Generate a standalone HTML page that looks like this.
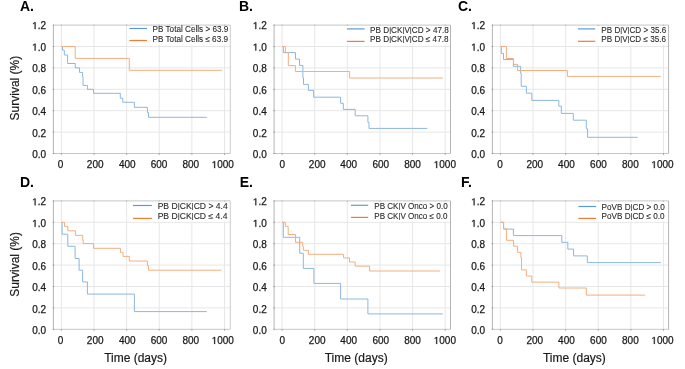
<!DOCTYPE html>
<html><head><meta charset="utf-8"><style>
html,body{margin:0;padding:0;background:#fff;width:685px;height:369px;overflow:hidden}
svg{display:block;will-change:transform}
text{font-family:"Liberation Sans",sans-serif;fill:#1a1a1a}
.tk{font-size:10px;stroke:#1a1a1a;stroke-width:0.25px}
.lg{font-size:8.3px;fill:#2a2a2a;stroke:#2a2a2a;stroke-width:0.1px}
.pl{font-size:14px;font-weight:bold;fill:#000}
.hid{fill-opacity:0;stroke-opacity:0}
.one{fill:#1a1a1a;stroke:#1a1a1a;stroke-width:60}
.at{font-size:12px;stroke:#1a1a1a;stroke-width:0.2px}
</style></head><body>
<svg width="685" height="369" viewBox="0 0 685 369">
<rect width="685" height="369" fill="#fff"/>
<g><line x1="53.40" y1="132.10" x2="230.30" y2="132.10" stroke="#e7e7e7" stroke-width="1"/><line x1="53.40" y1="110.70" x2="230.30" y2="110.70" stroke="#e7e7e7" stroke-width="1"/><line x1="53.40" y1="89.30" x2="230.30" y2="89.30" stroke="#e7e7e7" stroke-width="1"/><line x1="53.40" y1="67.90" x2="230.30" y2="67.90" stroke="#e7e7e7" stroke-width="1"/><line x1="53.40" y1="46.50" x2="230.30" y2="46.50" stroke="#e7e7e7" stroke-width="1"/><line x1="61.40" y1="25.10" x2="61.40" y2="153.50" stroke="#e7e7e7" stroke-width="1"/><line x1="94.02" y1="25.10" x2="94.02" y2="153.50" stroke="#e7e7e7" stroke-width="1"/><line x1="126.64" y1="25.10" x2="126.64" y2="153.50" stroke="#e7e7e7" stroke-width="1"/><line x1="159.26" y1="25.10" x2="159.26" y2="153.50" stroke="#e7e7e7" stroke-width="1"/><line x1="191.88" y1="25.10" x2="191.88" y2="153.50" stroke="#e7e7e7" stroke-width="1"/><line x1="224.50" y1="25.10" x2="224.50" y2="153.50" stroke="#e7e7e7" stroke-width="1"/><rect x="128.00" y="25.60" width="101.80" height="18.90" fill="#fff"/><line x1="53.40" y1="25.10" x2="230.30" y2="25.10" stroke="#c6c6c6" stroke-width="1"/><line x1="230.30" y1="25.10" x2="230.30" y2="153.50" stroke="#cccccc" stroke-width="1"/><line x1="53.40" y1="153.50" x2="230.30" y2="153.50" stroke="#c6c6c6" stroke-width="1"/><line x1="53.40" y1="25.10" x2="53.40" y2="153.50" stroke="#b4b4b4" stroke-width="1"/><line x1="52.80" y1="153.50" x2="54.00" y2="153.50" stroke="#8a8a8a" stroke-width="1"/><line x1="52.80" y1="132.10" x2="54.00" y2="132.10" stroke="#8a8a8a" stroke-width="1"/><line x1="52.80" y1="110.70" x2="54.00" y2="110.70" stroke="#8a8a8a" stroke-width="1"/><line x1="52.80" y1="89.30" x2="54.00" y2="89.30" stroke="#8a8a8a" stroke-width="1"/><line x1="52.80" y1="67.90" x2="54.00" y2="67.90" stroke="#8a8a8a" stroke-width="1"/><line x1="52.80" y1="46.50" x2="54.00" y2="46.50" stroke="#8a8a8a" stroke-width="1"/><line x1="52.80" y1="25.10" x2="54.00" y2="25.10" stroke="#8a8a8a" stroke-width="1"/><line x1="61.40" y1="153.30" x2="61.40" y2="154.80" stroke="#9a9a9a" stroke-width="1"/><line x1="61.40" y1="24.70" x2="61.40" y2="25.70" stroke="#b0b0b0" stroke-width="1"/><line x1="94.02" y1="153.30" x2="94.02" y2="154.80" stroke="#9a9a9a" stroke-width="1"/><line x1="94.02" y1="24.70" x2="94.02" y2="25.70" stroke="#b0b0b0" stroke-width="1"/><line x1="126.64" y1="153.30" x2="126.64" y2="154.80" stroke="#9a9a9a" stroke-width="1"/><line x1="126.64" y1="24.70" x2="126.64" y2="25.70" stroke="#b0b0b0" stroke-width="1"/><line x1="159.26" y1="153.30" x2="159.26" y2="154.80" stroke="#9a9a9a" stroke-width="1"/><line x1="159.26" y1="24.70" x2="159.26" y2="25.70" stroke="#b0b0b0" stroke-width="1"/><line x1="191.88" y1="153.30" x2="191.88" y2="154.80" stroke="#9a9a9a" stroke-width="1"/><line x1="191.88" y1="24.70" x2="191.88" y2="25.70" stroke="#b0b0b0" stroke-width="1"/><line x1="224.50" y1="153.30" x2="224.50" y2="154.80" stroke="#9a9a9a" stroke-width="1"/><line x1="224.50" y1="24.70" x2="224.50" y2="25.70" stroke="#b0b0b0" stroke-width="1"/><text x="46.05" y="158.22" text-anchor="end" class="tk">0.0</text><text x="46.05" y="136.70" text-anchor="end" class="tk">0.2</text><text x="46.05" y="115.18" text-anchor="end" class="tk">0.4</text><text x="46.05" y="93.66" text-anchor="end" class="tk">0.6</text><text x="46.05" y="72.14" text-anchor="end" class="tk">0.8</text><text x="46.05" y="50.62" text-anchor="end" class="tk"><tspan class="hid">1</tspan>.0</text><path class="one" d="M515 0V1237L197 1010V1180L530 1409H696V0Z" transform="translate(32.150 50.620) scale(0.004883 -0.004883)"/><text x="46.05" y="29.10" text-anchor="end" class="tk"><tspan class="hid">1</tspan>.2</text><path class="one" d="M515 0V1237L197 1010V1180L530 1409H696V0Z" transform="translate(32.150 29.100) scale(0.004883 -0.004883)"/><text x="60.55" y="168.10" text-anchor="middle" class="tk">0</text><text x="95.20" y="168.10" text-anchor="middle" class="tk">200</text><text x="127.30" y="168.10" text-anchor="middle" class="tk">400</text><text x="159.00" y="168.10" text-anchor="middle" class="tk">600</text><text x="190.85" y="168.10" text-anchor="middle" class="tk">800</text><text x="222.80" y="168.10" text-anchor="middle" class="tk"><tspan class="hid">1</tspan>000</text><path class="one" d="M515 0V1237L197 1010V1180L530 1409H696V0Z" transform="translate(211.680 168.100) scale(0.004883 -0.004883)"/><path d="M61.4 46.5 H62.5 V50.1 H64.3 V55 H67.6 V63.5 H75.3 V67.9 H79.5 V72.4 H82.6 V76.6 H83 V85.4 H87.4 V89.3 H93.5 V93.3 H120.3 V98.2 H122.8 V102.3 H134.4 V107.3 H147.4 V112.5 H148.5 V117.3 H206.9" fill="none" stroke="#8cb8df" stroke-width="1"/><path d="M61.4 46.5 H75.2 V58.4 H129.3 V70.3 H222.1" fill="none" stroke="#f4ae7f" stroke-width="1"/><line x1="129.40" y1="28.50" x2="147.00" y2="28.50" stroke="#5b9bd5" stroke-width="1.2"/><line x1="129.40" y1="40.50" x2="147.00" y2="40.50" stroke="#ed7d31" stroke-width="1.2"/><text x="152.56" y="31.80" class="lg" textLength="75.74" lengthAdjust="spacingAndGlyphs">PB Total Cells > 63.9</text><text x="152.56" y="41.50" class="lg" textLength="75.44" lengthAdjust="spacingAndGlyphs">PB Total Cells ≤ 63.9</text><text x="33.90" y="10.80" text-anchor="end" class="pl">A.</text><text transform="translate(18.6 88.10) rotate(-90)" text-anchor="middle" class="at">Survival (%)</text></g>
<g><line x1="274.10" y1="132.10" x2="450.50" y2="132.10" stroke="#e7e7e7" stroke-width="1"/><line x1="274.10" y1="110.70" x2="450.50" y2="110.70" stroke="#e7e7e7" stroke-width="1"/><line x1="274.10" y1="89.30" x2="450.50" y2="89.30" stroke="#e7e7e7" stroke-width="1"/><line x1="274.10" y1="67.90" x2="450.50" y2="67.90" stroke="#e7e7e7" stroke-width="1"/><line x1="274.10" y1="46.50" x2="450.50" y2="46.50" stroke="#e7e7e7" stroke-width="1"/><line x1="282.10" y1="25.10" x2="282.10" y2="153.50" stroke="#e7e7e7" stroke-width="1"/><line x1="314.72" y1="25.10" x2="314.72" y2="153.50" stroke="#e7e7e7" stroke-width="1"/><line x1="347.34" y1="25.10" x2="347.34" y2="153.50" stroke="#e7e7e7" stroke-width="1"/><line x1="379.96" y1="25.10" x2="379.96" y2="153.50" stroke="#e7e7e7" stroke-width="1"/><line x1="412.58" y1="25.10" x2="412.58" y2="153.50" stroke="#e7e7e7" stroke-width="1"/><line x1="445.20" y1="25.10" x2="445.20" y2="153.50" stroke="#e7e7e7" stroke-width="1"/><rect x="345.00" y="25.60" width="105.00" height="18.90" fill="#fff"/><line x1="274.10" y1="25.10" x2="450.50" y2="25.10" stroke="#c6c6c6" stroke-width="1"/><line x1="450.50" y1="25.10" x2="450.50" y2="153.50" stroke="#b4b4b4" stroke-width="1"/><line x1="274.10" y1="153.50" x2="450.50" y2="153.50" stroke="#c6c6c6" stroke-width="1"/><line x1="274.10" y1="25.10" x2="274.10" y2="153.50" stroke="#b4b4b4" stroke-width="1"/><line x1="273.50" y1="153.50" x2="274.70" y2="153.50" stroke="#8a8a8a" stroke-width="1"/><line x1="273.50" y1="132.10" x2="274.70" y2="132.10" stroke="#8a8a8a" stroke-width="1"/><line x1="273.50" y1="110.70" x2="274.70" y2="110.70" stroke="#8a8a8a" stroke-width="1"/><line x1="273.50" y1="89.30" x2="274.70" y2="89.30" stroke="#8a8a8a" stroke-width="1"/><line x1="273.50" y1="67.90" x2="274.70" y2="67.90" stroke="#8a8a8a" stroke-width="1"/><line x1="273.50" y1="46.50" x2="274.70" y2="46.50" stroke="#8a8a8a" stroke-width="1"/><line x1="273.50" y1="25.10" x2="274.70" y2="25.10" stroke="#8a8a8a" stroke-width="1"/><line x1="282.10" y1="153.30" x2="282.10" y2="154.80" stroke="#9a9a9a" stroke-width="1"/><line x1="282.10" y1="24.70" x2="282.10" y2="25.70" stroke="#b0b0b0" stroke-width="1"/><line x1="314.72" y1="153.30" x2="314.72" y2="154.80" stroke="#9a9a9a" stroke-width="1"/><line x1="314.72" y1="24.70" x2="314.72" y2="25.70" stroke="#b0b0b0" stroke-width="1"/><line x1="347.34" y1="153.30" x2="347.34" y2="154.80" stroke="#9a9a9a" stroke-width="1"/><line x1="347.34" y1="24.70" x2="347.34" y2="25.70" stroke="#b0b0b0" stroke-width="1"/><line x1="379.96" y1="153.30" x2="379.96" y2="154.80" stroke="#9a9a9a" stroke-width="1"/><line x1="379.96" y1="24.70" x2="379.96" y2="25.70" stroke="#b0b0b0" stroke-width="1"/><line x1="412.58" y1="153.30" x2="412.58" y2="154.80" stroke="#9a9a9a" stroke-width="1"/><line x1="412.58" y1="24.70" x2="412.58" y2="25.70" stroke="#b0b0b0" stroke-width="1"/><line x1="445.20" y1="153.30" x2="445.20" y2="154.80" stroke="#9a9a9a" stroke-width="1"/><line x1="445.20" y1="24.70" x2="445.20" y2="25.70" stroke="#b0b0b0" stroke-width="1"/><text x="266.75" y="158.22" text-anchor="end" class="tk">0.0</text><text x="266.75" y="136.70" text-anchor="end" class="tk">0.2</text><text x="266.75" y="115.18" text-anchor="end" class="tk">0.4</text><text x="266.75" y="93.66" text-anchor="end" class="tk">0.6</text><text x="266.75" y="72.14" text-anchor="end" class="tk">0.8</text><text x="266.75" y="50.62" text-anchor="end" class="tk"><tspan class="hid">1</tspan>.0</text><path class="one" d="M515 0V1237L197 1010V1180L530 1409H696V0Z" transform="translate(252.850 50.620) scale(0.004883 -0.004883)"/><text x="266.75" y="29.10" text-anchor="end" class="tk"><tspan class="hid">1</tspan>.2</text><path class="one" d="M515 0V1237L197 1010V1180L530 1409H696V0Z" transform="translate(252.850 29.100) scale(0.004883 -0.004883)"/><text x="282.25" y="168.10" text-anchor="middle" class="tk">0</text><text x="317.20" y="168.10" text-anchor="middle" class="tk">200</text><text x="348.70" y="168.10" text-anchor="middle" class="tk">400</text><text x="380.75" y="168.10" text-anchor="middle" class="tk">600</text><text x="412.50" y="168.10" text-anchor="middle" class="tk">800</text><text x="444.85" y="168.10" text-anchor="middle" class="tk"><tspan class="hid">1</tspan>000</text><path class="one" d="M515 0V1237L197 1010V1180L530 1409H696V0Z" transform="translate(433.730 168.100) scale(0.004883 -0.004883)"/><path d="M282.1 46.5 H283.3 V52.6 H295.5 V59.1 H299.5 V65.4 H302.9 V78 H303.5 V84.4 H308.4 V90.4 H313.6 V97.2 H340.6 V103.3 H343.3 V109.4 H355.2 V115.8 H367.9 V122.3 H369 V128.4 H427.3" fill="none" stroke="#8cb8df" stroke-width="1"/><path d="M282.1 46.5 H285.3 V52.6 H288.3 V65.6 H295.4 V71.5 H349.6 V78.0 H442.9" fill="none" stroke="#f4ae7f" stroke-width="1"/><line x1="346.90" y1="28.90" x2="364.60" y2="28.90" stroke="#5b9bd5" stroke-width="1.2"/><line x1="346.90" y1="41.40" x2="364.60" y2="41.40" stroke="#ed7d31" stroke-width="1.2"/><text x="370.06" y="32.50" class="lg" textLength="78.74" lengthAdjust="spacingAndGlyphs">PB D<tspan style="font-size:7.6px;baseline-shift:0.7px">|</tspan>CK<tspan style="font-size:7.6px;baseline-shift:0.7px">|</tspan>V<tspan style="font-size:7.6px;baseline-shift:0.7px">|</tspan>CD > 47.8</text><text x="370.06" y="41.90" class="lg" textLength="78.44" lengthAdjust="spacingAndGlyphs">PB D<tspan style="font-size:7.6px;baseline-shift:0.7px">|</tspan>CK<tspan style="font-size:7.6px;baseline-shift:0.7px">|</tspan>V<tspan style="font-size:7.6px;baseline-shift:0.7px">|</tspan>CD ≤ 47.8</text><text x="252.90" y="10.80" text-anchor="end" class="pl">B.</text></g>
<g><line x1="492.40" y1="132.10" x2="668.60" y2="132.10" stroke="#e7e7e7" stroke-width="1"/><line x1="492.40" y1="110.70" x2="668.60" y2="110.70" stroke="#e7e7e7" stroke-width="1"/><line x1="492.40" y1="89.30" x2="668.60" y2="89.30" stroke="#e7e7e7" stroke-width="1"/><line x1="492.40" y1="67.90" x2="668.60" y2="67.90" stroke="#e7e7e7" stroke-width="1"/><line x1="492.40" y1="46.50" x2="668.60" y2="46.50" stroke="#e7e7e7" stroke-width="1"/><line x1="500.40" y1="25.10" x2="500.40" y2="153.50" stroke="#e7e7e7" stroke-width="1"/><line x1="533.02" y1="25.10" x2="533.02" y2="153.50" stroke="#e7e7e7" stroke-width="1"/><line x1="565.64" y1="25.10" x2="565.64" y2="153.50" stroke="#e7e7e7" stroke-width="1"/><line x1="598.26" y1="25.10" x2="598.26" y2="153.50" stroke="#e7e7e7" stroke-width="1"/><line x1="630.88" y1="25.10" x2="630.88" y2="153.50" stroke="#e7e7e7" stroke-width="1"/><line x1="663.50" y1="25.10" x2="663.50" y2="153.50" stroke="#e7e7e7" stroke-width="1"/><rect x="576.00" y="25.60" width="92.10" height="19.40" fill="#fff"/><line x1="492.40" y1="25.10" x2="668.60" y2="25.10" stroke="#c6c6c6" stroke-width="1"/><line x1="668.60" y1="25.10" x2="668.60" y2="153.50" stroke="#b4b4b4" stroke-width="1"/><line x1="492.40" y1="153.50" x2="668.60" y2="153.50" stroke="#c6c6c6" stroke-width="1"/><line x1="492.40" y1="25.10" x2="492.40" y2="153.50" stroke="#b4b4b4" stroke-width="1"/><line x1="491.80" y1="153.50" x2="493.00" y2="153.50" stroke="#8a8a8a" stroke-width="1"/><line x1="491.80" y1="132.10" x2="493.00" y2="132.10" stroke="#8a8a8a" stroke-width="1"/><line x1="491.80" y1="110.70" x2="493.00" y2="110.70" stroke="#8a8a8a" stroke-width="1"/><line x1="491.80" y1="89.30" x2="493.00" y2="89.30" stroke="#8a8a8a" stroke-width="1"/><line x1="491.80" y1="67.90" x2="493.00" y2="67.90" stroke="#8a8a8a" stroke-width="1"/><line x1="491.80" y1="46.50" x2="493.00" y2="46.50" stroke="#8a8a8a" stroke-width="1"/><line x1="491.80" y1="25.10" x2="493.00" y2="25.10" stroke="#8a8a8a" stroke-width="1"/><line x1="500.40" y1="153.30" x2="500.40" y2="154.80" stroke="#9a9a9a" stroke-width="1"/><line x1="500.40" y1="24.70" x2="500.40" y2="25.70" stroke="#b0b0b0" stroke-width="1"/><line x1="533.02" y1="153.30" x2="533.02" y2="154.80" stroke="#9a9a9a" stroke-width="1"/><line x1="533.02" y1="24.70" x2="533.02" y2="25.70" stroke="#b0b0b0" stroke-width="1"/><line x1="565.64" y1="153.30" x2="565.64" y2="154.80" stroke="#9a9a9a" stroke-width="1"/><line x1="565.64" y1="24.70" x2="565.64" y2="25.70" stroke="#b0b0b0" stroke-width="1"/><line x1="598.26" y1="153.30" x2="598.26" y2="154.80" stroke="#9a9a9a" stroke-width="1"/><line x1="598.26" y1="24.70" x2="598.26" y2="25.70" stroke="#b0b0b0" stroke-width="1"/><line x1="630.88" y1="153.30" x2="630.88" y2="154.80" stroke="#9a9a9a" stroke-width="1"/><line x1="630.88" y1="24.70" x2="630.88" y2="25.70" stroke="#b0b0b0" stroke-width="1"/><line x1="663.50" y1="153.30" x2="663.50" y2="154.80" stroke="#9a9a9a" stroke-width="1"/><line x1="663.50" y1="24.70" x2="663.50" y2="25.70" stroke="#b0b0b0" stroke-width="1"/><text x="485.05" y="158.22" text-anchor="end" class="tk">0.0</text><text x="485.05" y="136.70" text-anchor="end" class="tk">0.2</text><text x="485.05" y="115.18" text-anchor="end" class="tk">0.4</text><text x="485.05" y="93.66" text-anchor="end" class="tk">0.6</text><text x="485.05" y="72.14" text-anchor="end" class="tk">0.8</text><text x="485.05" y="50.62" text-anchor="end" class="tk"><tspan class="hid">1</tspan>.0</text><path class="one" d="M515 0V1237L197 1010V1180L530 1409H696V0Z" transform="translate(471.150 50.620) scale(0.004883 -0.004883)"/><text x="485.05" y="29.10" text-anchor="end" class="tk"><tspan class="hid">1</tspan>.2</text><path class="one" d="M515 0V1237L197 1010V1180L530 1409H696V0Z" transform="translate(471.150 29.100) scale(0.004883 -0.004883)"/><text x="500.05" y="168.10" text-anchor="middle" class="tk">0</text><text x="534.85" y="168.10" text-anchor="middle" class="tk">200</text><text x="566.45" y="168.10" text-anchor="middle" class="tk">400</text><text x="598.45" y="168.10" text-anchor="middle" class="tk">600</text><text x="630.40" y="168.10" text-anchor="middle" class="tk">800</text><text x="662.45" y="168.10" text-anchor="middle" class="tk"><tspan class="hid">1</tspan>000</text><path class="one" d="M515 0V1237L197 1010V1180L530 1409H696V0Z" transform="translate(651.330 168.100) scale(0.004883 -0.004883)"/><path d="M500.4 46.5 H501.3 V53.4 H503.5 V59.5 H513.4 V66.3 H520.6 V73 H521.2 V86.3 H526.4 V93.2 H531.8 V100.4 H558.8 V106.1 H561.3 V113.4 H573.3 V120.2 H586.3 V128.8 H587.6 V137.3 H637.6" fill="none" stroke="#8cb8df" stroke-width="1"/><path d="M500.4 46.5 H506.4 V58.5 H513.5 V64.4 H517.5 V70.5 H567.4 V76.4 H660.7" fill="none" stroke="#f4ae7f" stroke-width="1"/><line x1="578.00" y1="28.90" x2="595.20" y2="28.90" stroke="#5b9bd5" stroke-width="1.2"/><line x1="578.00" y1="41.30" x2="595.20" y2="41.30" stroke="#ed7d31" stroke-width="1.2"/><text x="601.36" y="32.50" class="lg" textLength="64.84" lengthAdjust="spacingAndGlyphs">PB D<tspan style="font-size:7.6px;baseline-shift:0.7px">|</tspan>V<tspan style="font-size:7.6px;baseline-shift:0.7px">|</tspan>CD > 35.6</text><text x="601.36" y="41.90" class="lg" textLength="64.54" lengthAdjust="spacingAndGlyphs">PB D<tspan style="font-size:7.6px;baseline-shift:0.7px">|</tspan>V<tspan style="font-size:7.6px;baseline-shift:0.7px">|</tspan>CD ≤ 35.6</text><text x="472.00" y="10.80" text-anchor="end" class="pl">C.</text></g>
<g><line x1="53.40" y1="307.90" x2="230.30" y2="307.90" stroke="#e7e7e7" stroke-width="1"/><line x1="53.40" y1="286.50" x2="230.30" y2="286.50" stroke="#e7e7e7" stroke-width="1"/><line x1="53.40" y1="265.10" x2="230.30" y2="265.10" stroke="#e7e7e7" stroke-width="1"/><line x1="53.40" y1="243.70" x2="230.30" y2="243.70" stroke="#e7e7e7" stroke-width="1"/><line x1="53.40" y1="222.30" x2="230.30" y2="222.30" stroke="#e7e7e7" stroke-width="1"/><line x1="61.40" y1="200.90" x2="61.40" y2="329.30" stroke="#e7e7e7" stroke-width="1"/><line x1="94.02" y1="200.90" x2="94.02" y2="329.30" stroke="#e7e7e7" stroke-width="1"/><line x1="126.64" y1="200.90" x2="126.64" y2="329.30" stroke="#e7e7e7" stroke-width="1"/><line x1="159.26" y1="200.90" x2="159.26" y2="329.30" stroke="#e7e7e7" stroke-width="1"/><line x1="191.88" y1="200.90" x2="191.88" y2="329.30" stroke="#e7e7e7" stroke-width="1"/><line x1="224.50" y1="200.90" x2="224.50" y2="329.30" stroke="#e7e7e7" stroke-width="1"/><rect x="131.00" y="201.40" width="98.80" height="20.10" fill="#fff"/><line x1="53.40" y1="200.90" x2="230.30" y2="200.90" stroke="#c6c6c6" stroke-width="1"/><line x1="230.30" y1="200.90" x2="230.30" y2="329.30" stroke="#cccccc" stroke-width="1"/><line x1="53.40" y1="329.30" x2="230.30" y2="329.30" stroke="#c6c6c6" stroke-width="1"/><line x1="53.40" y1="200.90" x2="53.40" y2="329.30" stroke="#b4b4b4" stroke-width="1"/><line x1="52.80" y1="329.30" x2="54.00" y2="329.30" stroke="#8a8a8a" stroke-width="1"/><line x1="52.80" y1="307.90" x2="54.00" y2="307.90" stroke="#8a8a8a" stroke-width="1"/><line x1="52.80" y1="286.50" x2="54.00" y2="286.50" stroke="#8a8a8a" stroke-width="1"/><line x1="52.80" y1="265.10" x2="54.00" y2="265.10" stroke="#8a8a8a" stroke-width="1"/><line x1="52.80" y1="243.70" x2="54.00" y2="243.70" stroke="#8a8a8a" stroke-width="1"/><line x1="52.80" y1="222.30" x2="54.00" y2="222.30" stroke="#8a8a8a" stroke-width="1"/><line x1="52.80" y1="200.90" x2="54.00" y2="200.90" stroke="#8a8a8a" stroke-width="1"/><line x1="61.40" y1="329.10" x2="61.40" y2="330.60" stroke="#9a9a9a" stroke-width="1"/><line x1="61.40" y1="200.50" x2="61.40" y2="201.50" stroke="#b0b0b0" stroke-width="1"/><line x1="94.02" y1="329.10" x2="94.02" y2="330.60" stroke="#9a9a9a" stroke-width="1"/><line x1="94.02" y1="200.50" x2="94.02" y2="201.50" stroke="#b0b0b0" stroke-width="1"/><line x1="126.64" y1="329.10" x2="126.64" y2="330.60" stroke="#9a9a9a" stroke-width="1"/><line x1="126.64" y1="200.50" x2="126.64" y2="201.50" stroke="#b0b0b0" stroke-width="1"/><line x1="159.26" y1="329.10" x2="159.26" y2="330.60" stroke="#9a9a9a" stroke-width="1"/><line x1="159.26" y1="200.50" x2="159.26" y2="201.50" stroke="#b0b0b0" stroke-width="1"/><line x1="191.88" y1="329.10" x2="191.88" y2="330.60" stroke="#9a9a9a" stroke-width="1"/><line x1="191.88" y1="200.50" x2="191.88" y2="201.50" stroke="#b0b0b0" stroke-width="1"/><line x1="224.50" y1="329.10" x2="224.50" y2="330.60" stroke="#9a9a9a" stroke-width="1"/><line x1="224.50" y1="200.50" x2="224.50" y2="201.50" stroke="#b0b0b0" stroke-width="1"/><text x="46.05" y="334.42" text-anchor="end" class="tk">0.0</text><text x="46.05" y="312.90" text-anchor="end" class="tk">0.2</text><text x="46.05" y="291.38" text-anchor="end" class="tk">0.4</text><text x="46.05" y="269.86" text-anchor="end" class="tk">0.6</text><text x="46.05" y="248.34" text-anchor="end" class="tk">0.8</text><text x="46.05" y="226.82" text-anchor="end" class="tk"><tspan class="hid">1</tspan>.0</text><path class="one" d="M515 0V1237L197 1010V1180L530 1409H696V0Z" transform="translate(32.150 226.820) scale(0.004883 -0.004883)"/><text x="46.05" y="205.30" text-anchor="end" class="tk"><tspan class="hid">1</tspan>.2</text><path class="one" d="M515 0V1237L197 1010V1180L530 1409H696V0Z" transform="translate(32.150 205.300) scale(0.004883 -0.004883)"/><text x="60.55" y="343.90" text-anchor="middle" class="tk">0</text><text x="95.20" y="343.90" text-anchor="middle" class="tk">200</text><text x="127.30" y="343.90" text-anchor="middle" class="tk">400</text><text x="159.00" y="343.90" text-anchor="middle" class="tk">600</text><text x="190.85" y="343.90" text-anchor="middle" class="tk">800</text><text x="222.80" y="343.90" text-anchor="middle" class="tk"><tspan class="hid">1</tspan>000</text><path class="one" d="M515 0V1237L197 1010V1180L530 1409H696V0Z" transform="translate(211.680 343.900) scale(0.004883 -0.004883)"/><path d="M61.4 222.3 H62.1 V234.2 H67.8 V246.3 H75.1 V258.5 H79.1 V270.2 H82.6 V281.9 H87.4 V294.1 H134.4 V311.6 H206.8" fill="none" stroke="#8cb8df" stroke-width="1"/><path d="M61.4 222.3 H64.5 V226.3 H67.8 V230.8 H75.4 V235.4 H82.7 V239.7 H83.2 V243.6 H93.5 V248.3 H120.5 V252.3 H123 V256.4 H129.3 V261 H147.4 V265.4 H148.5 V270.2 H221.5" fill="none" stroke="#f4ae7f" stroke-width="1"/><line x1="133.00" y1="205.50" x2="151.90" y2="205.50" stroke="#5b9bd5" stroke-width="1.2"/><line x1="133.00" y1="218.40" x2="151.90" y2="218.40" stroke="#ed7d31" stroke-width="1.2"/><text x="157.66" y="209.10" class="lg" textLength="70.04" lengthAdjust="spacingAndGlyphs">PB D<tspan style="font-size:7.6px;baseline-shift:0.7px">|</tspan>CK<tspan style="font-size:7.6px;baseline-shift:0.7px">|</tspan>CD > 4.4</text><text x="157.66" y="218.70" class="lg" textLength="69.74" lengthAdjust="spacingAndGlyphs">PB D<tspan style="font-size:7.6px;baseline-shift:0.7px">|</tspan>CK<tspan style="font-size:7.6px;baseline-shift:0.7px">|</tspan>CD ≤ 4.4</text><text x="33.90" y="186.90" text-anchor="end" class="pl">D.</text><text transform="translate(18.6 264.30) rotate(-90)" text-anchor="middle" class="at">Survival (%)</text><text x="135.60" y="361.5" text-anchor="middle" class="at">Time (days)</text></g>
<g><line x1="274.10" y1="307.90" x2="450.50" y2="307.90" stroke="#e7e7e7" stroke-width="1"/><line x1="274.10" y1="286.50" x2="450.50" y2="286.50" stroke="#e7e7e7" stroke-width="1"/><line x1="274.10" y1="265.10" x2="450.50" y2="265.10" stroke="#e7e7e7" stroke-width="1"/><line x1="274.10" y1="243.70" x2="450.50" y2="243.70" stroke="#e7e7e7" stroke-width="1"/><line x1="274.10" y1="222.30" x2="450.50" y2="222.30" stroke="#e7e7e7" stroke-width="1"/><line x1="282.10" y1="200.90" x2="282.10" y2="329.30" stroke="#e7e7e7" stroke-width="1"/><line x1="314.72" y1="200.90" x2="314.72" y2="329.30" stroke="#e7e7e7" stroke-width="1"/><line x1="347.34" y1="200.90" x2="347.34" y2="329.30" stroke="#e7e7e7" stroke-width="1"/><line x1="379.96" y1="200.90" x2="379.96" y2="329.30" stroke="#e7e7e7" stroke-width="1"/><line x1="412.58" y1="200.90" x2="412.58" y2="329.30" stroke="#e7e7e7" stroke-width="1"/><line x1="445.20" y1="200.90" x2="445.20" y2="329.30" stroke="#e7e7e7" stroke-width="1"/><rect x="349.00" y="201.40" width="101.00" height="20.10" fill="#fff"/><line x1="274.10" y1="200.90" x2="450.50" y2="200.90" stroke="#c6c6c6" stroke-width="1"/><line x1="450.50" y1="200.90" x2="450.50" y2="329.30" stroke="#b4b4b4" stroke-width="1"/><line x1="274.10" y1="329.30" x2="450.50" y2="329.30" stroke="#c6c6c6" stroke-width="1"/><line x1="274.10" y1="200.90" x2="274.10" y2="329.30" stroke="#b4b4b4" stroke-width="1"/><line x1="273.50" y1="329.30" x2="274.70" y2="329.30" stroke="#8a8a8a" stroke-width="1"/><line x1="273.50" y1="307.90" x2="274.70" y2="307.90" stroke="#8a8a8a" stroke-width="1"/><line x1="273.50" y1="286.50" x2="274.70" y2="286.50" stroke="#8a8a8a" stroke-width="1"/><line x1="273.50" y1="265.10" x2="274.70" y2="265.10" stroke="#8a8a8a" stroke-width="1"/><line x1="273.50" y1="243.70" x2="274.70" y2="243.70" stroke="#8a8a8a" stroke-width="1"/><line x1="273.50" y1="222.30" x2="274.70" y2="222.30" stroke="#8a8a8a" stroke-width="1"/><line x1="273.50" y1="200.90" x2="274.70" y2="200.90" stroke="#8a8a8a" stroke-width="1"/><line x1="282.10" y1="329.10" x2="282.10" y2="330.60" stroke="#9a9a9a" stroke-width="1"/><line x1="282.10" y1="200.50" x2="282.10" y2="201.50" stroke="#b0b0b0" stroke-width="1"/><line x1="314.72" y1="329.10" x2="314.72" y2="330.60" stroke="#9a9a9a" stroke-width="1"/><line x1="314.72" y1="200.50" x2="314.72" y2="201.50" stroke="#b0b0b0" stroke-width="1"/><line x1="347.34" y1="329.10" x2="347.34" y2="330.60" stroke="#9a9a9a" stroke-width="1"/><line x1="347.34" y1="200.50" x2="347.34" y2="201.50" stroke="#b0b0b0" stroke-width="1"/><line x1="379.96" y1="329.10" x2="379.96" y2="330.60" stroke="#9a9a9a" stroke-width="1"/><line x1="379.96" y1="200.50" x2="379.96" y2="201.50" stroke="#b0b0b0" stroke-width="1"/><line x1="412.58" y1="329.10" x2="412.58" y2="330.60" stroke="#9a9a9a" stroke-width="1"/><line x1="412.58" y1="200.50" x2="412.58" y2="201.50" stroke="#b0b0b0" stroke-width="1"/><line x1="445.20" y1="329.10" x2="445.20" y2="330.60" stroke="#9a9a9a" stroke-width="1"/><line x1="445.20" y1="200.50" x2="445.20" y2="201.50" stroke="#b0b0b0" stroke-width="1"/><text x="266.75" y="334.42" text-anchor="end" class="tk">0.0</text><text x="266.75" y="312.90" text-anchor="end" class="tk">0.2</text><text x="266.75" y="291.38" text-anchor="end" class="tk">0.4</text><text x="266.75" y="269.86" text-anchor="end" class="tk">0.6</text><text x="266.75" y="248.34" text-anchor="end" class="tk">0.8</text><text x="266.75" y="226.82" text-anchor="end" class="tk"><tspan class="hid">1</tspan>.0</text><path class="one" d="M515 0V1237L197 1010V1180L530 1409H696V0Z" transform="translate(252.850 226.820) scale(0.004883 -0.004883)"/><text x="266.75" y="205.30" text-anchor="end" class="tk"><tspan class="hid">1</tspan>.2</text><path class="one" d="M515 0V1237L197 1010V1180L530 1409H696V0Z" transform="translate(252.850 205.300) scale(0.004883 -0.004883)"/><text x="282.25" y="343.90" text-anchor="middle" class="tk">0</text><text x="317.20" y="343.90" text-anchor="middle" class="tk">200</text><text x="348.70" y="343.90" text-anchor="middle" class="tk">400</text><text x="380.75" y="343.90" text-anchor="middle" class="tk">600</text><text x="412.50" y="343.90" text-anchor="middle" class="tk">800</text><text x="444.85" y="343.90" text-anchor="middle" class="tk"><tspan class="hid">1</tspan>000</text><path class="one" d="M515 0V1237L197 1010V1180L530 1409H696V0Z" transform="translate(433.730 343.900) scale(0.004883 -0.004883)"/><path d="M282.1 222.3 H283.3 V237.3 H299.7 V253.3 H303.3 V268.4 H313.9 V283.4 H340.6 V299 H367.9 V313.9 H442.8" fill="none" stroke="#8cb8df" stroke-width="1"/><path d="M282.1 222.3 H285.3 V226.3 H288.2 V234.5 H295.5 V242.3 H302.7 V246.3 H303.3 V250.3 H308.4 V254.3 H343.6 V257.9 H349.5 V262 H355.2 V266.1 H369.6 V271 H439.9" fill="none" stroke="#f4ae7f" stroke-width="1"/><line x1="351.00" y1="205.30" x2="368.20" y2="205.30" stroke="#5b9bd5" stroke-width="1.2"/><line x1="351.00" y1="217.40" x2="368.20" y2="217.40" stroke="#ed7d31" stroke-width="1.2"/><text x="374.26" y="209.10" class="lg" textLength="73.44" lengthAdjust="spacingAndGlyphs">PB CK<tspan style="font-size:7.6px;baseline-shift:0.7px">|</tspan>V Onco > 0.0</text><text x="374.26" y="218.60" class="lg" textLength="73.14" lengthAdjust="spacingAndGlyphs">PB CK<tspan style="font-size:7.6px;baseline-shift:0.7px">|</tspan>V Onco ≤ 0.0</text><text x="252.90" y="186.90" text-anchor="end" class="pl">E.</text><text x="356.20" y="361.5" text-anchor="middle" class="at">Time (days)</text></g>
<g><line x1="492.40" y1="307.90" x2="668.60" y2="307.90" stroke="#e7e7e7" stroke-width="1"/><line x1="492.40" y1="286.50" x2="668.60" y2="286.50" stroke="#e7e7e7" stroke-width="1"/><line x1="492.40" y1="265.10" x2="668.60" y2="265.10" stroke="#e7e7e7" stroke-width="1"/><line x1="492.40" y1="243.70" x2="668.60" y2="243.70" stroke="#e7e7e7" stroke-width="1"/><line x1="492.40" y1="222.30" x2="668.60" y2="222.30" stroke="#e7e7e7" stroke-width="1"/><line x1="500.40" y1="200.90" x2="500.40" y2="329.30" stroke="#e7e7e7" stroke-width="1"/><line x1="533.02" y1="200.90" x2="533.02" y2="329.30" stroke="#e7e7e7" stroke-width="1"/><line x1="565.64" y1="200.90" x2="565.64" y2="329.30" stroke="#e7e7e7" stroke-width="1"/><line x1="598.26" y1="200.90" x2="598.26" y2="329.30" stroke="#e7e7e7" stroke-width="1"/><line x1="630.88" y1="200.90" x2="630.88" y2="329.30" stroke="#e7e7e7" stroke-width="1"/><line x1="663.50" y1="200.90" x2="663.50" y2="329.30" stroke="#e7e7e7" stroke-width="1"/><rect x="576.00" y="201.40" width="92.10" height="20.10" fill="#fff"/><line x1="492.40" y1="200.90" x2="668.60" y2="200.90" stroke="#c6c6c6" stroke-width="1"/><line x1="668.60" y1="200.90" x2="668.60" y2="329.30" stroke="#b4b4b4" stroke-width="1"/><line x1="492.40" y1="329.30" x2="668.60" y2="329.30" stroke="#c6c6c6" stroke-width="1"/><line x1="492.40" y1="200.90" x2="492.40" y2="329.30" stroke="#b4b4b4" stroke-width="1"/><line x1="491.80" y1="329.30" x2="493.00" y2="329.30" stroke="#8a8a8a" stroke-width="1"/><line x1="491.80" y1="307.90" x2="493.00" y2="307.90" stroke="#8a8a8a" stroke-width="1"/><line x1="491.80" y1="286.50" x2="493.00" y2="286.50" stroke="#8a8a8a" stroke-width="1"/><line x1="491.80" y1="265.10" x2="493.00" y2="265.10" stroke="#8a8a8a" stroke-width="1"/><line x1="491.80" y1="243.70" x2="493.00" y2="243.70" stroke="#8a8a8a" stroke-width="1"/><line x1="491.80" y1="222.30" x2="493.00" y2="222.30" stroke="#8a8a8a" stroke-width="1"/><line x1="491.80" y1="200.90" x2="493.00" y2="200.90" stroke="#8a8a8a" stroke-width="1"/><line x1="500.40" y1="329.10" x2="500.40" y2="330.60" stroke="#9a9a9a" stroke-width="1"/><line x1="500.40" y1="200.50" x2="500.40" y2="201.50" stroke="#b0b0b0" stroke-width="1"/><line x1="533.02" y1="329.10" x2="533.02" y2="330.60" stroke="#9a9a9a" stroke-width="1"/><line x1="533.02" y1="200.50" x2="533.02" y2="201.50" stroke="#b0b0b0" stroke-width="1"/><line x1="565.64" y1="329.10" x2="565.64" y2="330.60" stroke="#9a9a9a" stroke-width="1"/><line x1="565.64" y1="200.50" x2="565.64" y2="201.50" stroke="#b0b0b0" stroke-width="1"/><line x1="598.26" y1="329.10" x2="598.26" y2="330.60" stroke="#9a9a9a" stroke-width="1"/><line x1="598.26" y1="200.50" x2="598.26" y2="201.50" stroke="#b0b0b0" stroke-width="1"/><line x1="630.88" y1="329.10" x2="630.88" y2="330.60" stroke="#9a9a9a" stroke-width="1"/><line x1="630.88" y1="200.50" x2="630.88" y2="201.50" stroke="#b0b0b0" stroke-width="1"/><line x1="663.50" y1="329.10" x2="663.50" y2="330.60" stroke="#9a9a9a" stroke-width="1"/><line x1="663.50" y1="200.50" x2="663.50" y2="201.50" stroke="#b0b0b0" stroke-width="1"/><text x="485.05" y="334.42" text-anchor="end" class="tk">0.0</text><text x="485.05" y="312.90" text-anchor="end" class="tk">0.2</text><text x="485.05" y="291.38" text-anchor="end" class="tk">0.4</text><text x="485.05" y="269.86" text-anchor="end" class="tk">0.6</text><text x="485.05" y="248.34" text-anchor="end" class="tk">0.8</text><text x="485.05" y="226.82" text-anchor="end" class="tk"><tspan class="hid">1</tspan>.0</text><path class="one" d="M515 0V1237L197 1010V1180L530 1409H696V0Z" transform="translate(471.150 226.820) scale(0.004883 -0.004883)"/><text x="485.05" y="205.30" text-anchor="end" class="tk"><tspan class="hid">1</tspan>.2</text><path class="one" d="M515 0V1237L197 1010V1180L530 1409H696V0Z" transform="translate(471.150 205.300) scale(0.004883 -0.004883)"/><text x="500.05" y="343.90" text-anchor="middle" class="tk">0</text><text x="534.85" y="343.90" text-anchor="middle" class="tk">200</text><text x="566.45" y="343.90" text-anchor="middle" class="tk">400</text><text x="598.45" y="343.90" text-anchor="middle" class="tk">600</text><text x="630.40" y="343.90" text-anchor="middle" class="tk">800</text><text x="662.45" y="343.90" text-anchor="middle" class="tk"><tspan class="hid">1</tspan>000</text><path class="one" d="M515 0V1237L197 1010V1180L530 1409H696V0Z" transform="translate(651.330 343.900) scale(0.004883 -0.004883)"/><path d="M500.4 222.3 H503.6 V229.1 H513.4 V235.6 H561.8 V242.3 H567.8 V249.1 H573.6 V255.9 H587.3 V262.6 H660.9" fill="none" stroke="#8cb8df" stroke-width="1"/><path d="M500.4 222.3 H503.6 V228.8 H506.4 V240.3 H513.5 V246.2 H517.6 V252.3 H520.9 V257.7 H521.5 V269.9 H526.3 V276 H531.8 V282.1 H558.9 V288 H586.3 V295.1 H645.2" fill="none" stroke="#f4ae7f" stroke-width="1"/><line x1="578.40" y1="206.50" x2="596.00" y2="206.50" stroke="#5b9bd5" stroke-width="1.2"/><line x1="578.40" y1="218.40" x2="596.00" y2="218.40" stroke="#ed7d31" stroke-width="1.2"/><text x="601.56" y="209.70" class="lg" textLength="63.34" lengthAdjust="spacingAndGlyphs">PoVB D<tspan style="font-size:7.6px;baseline-shift:0.7px">|</tspan>CD > 0.0</text><text x="601.56" y="219.00" class="lg" textLength="63.04" lengthAdjust="spacingAndGlyphs">PoVB D<tspan style="font-size:7.6px;baseline-shift:0.7px">|</tspan>CD ≤ 0.0</text><text x="472.00" y="186.90" text-anchor="end" class="pl">F.</text><text x="574.40" y="361.5" text-anchor="middle" class="at">Time (days)</text></g>
</svg>
</body></html>
